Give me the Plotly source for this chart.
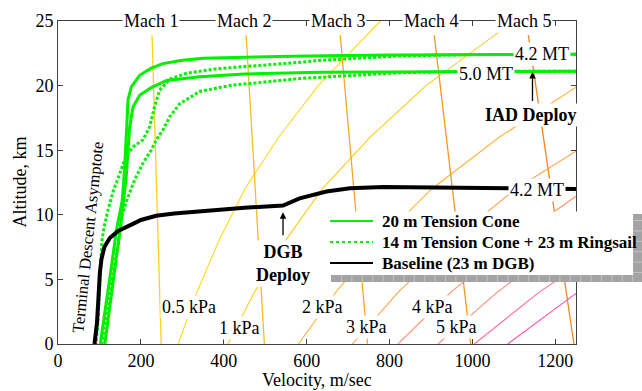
import numpy as np
import plotly.graph_objects as go

SERIF = "Liberation Serif, Times New Roman, serif"

# ---------------- trajectories: velocity (m/s) vs altitude (km) ----------------
# 20 m tension cone, 4.2 MT
tc_42_vel = [1250, 1000, 800, 600, 450, 350, 300, 253, 225, 197, 177, 169, 165, 161,
             155, 141, 129, 115, 102]
tc_42_alt = [22.42, 22.40, 22.36, 22.30, 22.22, 22.12, 21.97, 21.70, 21.35, 20.80,
             19.90, 18.90, 16.30, 13.70, 11.10, 8.80, 6.00, 3.00, 0.00]
# 20 m tension cone, 5.0 MT
tc_50_vel = [1250, 1000, 800, 632, 450, 342, 262, 225, 197, 181, 173, 169, 164, 158,
             150, 138, 126, 113]
tc_50_alt = [21.12, 21.10, 21.08, 21.04, 20.90, 20.68, 20.40, 19.85, 19.25, 18.35,
             16.80, 15.00, 12.70, 11.10, 8.80, 6.00, 3.00, 0.00]
# 14 m tension cone + 23 m ringsail, 4.2 MT
rs_42_vel = [1250, 1000, 825, 704, 632, 583, 503, 463, 382, 342, 310, 270, 245, 233,
             221, 205, 181, 165, 149, 133, 120, 111, 106, 104, 103, 100, 97, 92]
rs_42_alt = [22.42, 22.40, 22.30, 22.10, 21.95, 21.80, 21.60, 21.45, 21.30, 21.10,
             20.95, 20.50, 19.64, 18.35, 16.80, 15.80, 15.25, 14.60, 13.20, 11.80,
             10.30, 9.00, 8.00, 7.00, 6.00, 4.00, 2.00, 0.00]
# 14 m tension cone + 23 m ringsail, 5.0 MT
rs_50_vel = [1250, 1000, 825, 704, 583, 463, 422, 342, 294, 270, 253, 237, 225, 205,
             185, 169, 155, 145, 130, 117, 106]
rs_50_alt = [21.12, 21.10, 21.00, 20.80, 20.55, 20.16, 20.05, 19.55, 18.60, 17.60,
             16.55, 15.80, 15.00, 14.00, 12.70, 11.40, 10.00, 7.80, 5.00, 2.50, 0.00]
# baseline 23 m disk-gap-band, 4.2 MT
dgb_vel = [1250, 1150, 1000, 900, 785, 704, 648, 583, 555, 543, 450, 342, 280, 237,
           200, 181, 160, 145, 125, 112, 105, 101, 97.5, 94, 88]
dgb_alt = [12.00, 12.02, 12.08, 12.12, 12.15, 12.05, 11.80, 11.27, 10.90, 10.72,
           10.55, 10.30, 10.10, 9.92, 9.60, 9.30, 9.00, 8.75, 8.20, 7.50, 6.60,
           5.50, 3.50, 1.60, 0.00]

# ---------------- atmosphere ----------------
atm_alt = [0, 4, 8, 12, 16, 20, 25]                                   # km
atm_density = [0.01189, 0.00891, 0.00664, 0.00492, 0.00353, 0.002536, 0.001652]  # kg/m^3
sound_alt = [0.0, 23.9]                                               # km
sound_speed = [249.0, 227.0]                                          # m/s

mach_numbers = [1, 2, 3, 4, 5]
mach_colors = ["#ffd21a", "#fbbd1e", "#f9a825", "#f7961e", "#f3871c"]

q_kpa = [0.5, 1, 2, 3, 4, 5, 6, 7]
q_colors = ["#ffd91a", "#ffcc1a", "#ffb43c", "#ffa24e", "#ff9468", "#ff8a7c",
            "#ff6c9c", "#ff52ac"]
q_labels = ["0.5 kPa", "1 kPa", "2 kPa", "3 kPa", "4 kPa", "5 kPa"]

x_ticks = [0, 200, 400, 600, 800, 1000, 1200]
y_ticks = [0, 5, 10, 15, 20, 25]

fig = go.Figure()

# constant dynamic-pressure lines
rho = np.array(atm_density)
for q, c in zip(q_kpa, q_colors):
    v = np.sqrt(2.0 * q * 1000.0 / rho)
    fig.add_trace(go.Scatter(x=v, y=atm_alt, mode="lines",
                             line=dict(color=c, width=1.1), hoverinfo="skip",
                             showlegend=False))

# constant Mach lines
a = np.array(sound_speed)
for m, c in zip(mach_numbers, mach_colors):
    fig.add_trace(go.Scatter(x=m * a, y=sound_alt, mode="lines",
                             line=dict(color=c, width=1.3), hoverinfo="skip",
                             showlegend=False))

GREEN = "#00f000"
fig.add_trace(go.Scatter(x=tc_42_vel, y=tc_42_alt, mode="lines",
                         line=dict(color=GREEN, width=3), showlegend=False))
fig.add_trace(go.Scatter(x=tc_50_vel, y=tc_50_alt, mode="lines",
                         line=dict(color=GREEN, width=3), showlegend=False))
fig.add_trace(go.Scatter(x=rs_42_vel, y=rs_42_alt, mode="lines",
                         line=dict(color=GREEN, width=3, dash="3px,2px"), showlegend=False))
fig.add_trace(go.Scatter(x=rs_50_vel, y=rs_50_alt, mode="lines",
                         line=dict(color=GREEN, width=3, dash="3px,2px"), showlegend=False))
fig.add_trace(go.Scatter(x=dgb_vel, y=dgb_alt, mode="lines",
                         line=dict(color="black", width=4), showlegend=False))

# ---------------- page geometry ----------------
W, H = 642, 391
ML, MR, MT, MB = 58, 66, 21, 47
PW, PH = W - ML - MR, H - MT - MB


def pxx(x):
    return (x - ML) / PW


def pxy(y):
    return (H - MB - y) / PH


ann = []


def label(x, y, text, size=18, bold=False, bg="white", **kw):
    if bold:
        text = "<b>" + text + "</b>"
    d = dict(x=x, y=y, xref="x", yref="y", text=text, showarrow=False,
             font=dict(family=SERIF, size=size, color="black"),
             bgcolor=bg, borderpad=1)
    d.update(kw)
    ann.append(d)


# Mach labels along the top edge
for m in mach_numbers:
    label(225 * m, 25, "Mach %d" % m)

# dynamic pressure labels
q_label_pos = [(317, 2.88), (439, 1.21), (638, 2.88), (745, 1.29), (904, 2.88), (961, 1.29)]
for (x, y), t in zip(q_label_pos, q_labels):
    label(x, y, t)

# trajectory end labels
label(1167, 22.45, "4.2 MT")
label(1032, 20.88, "5.0 MT")
label(1157, 11.95, "4.2 MT")

# deployment callouts
ann.append(dict(x=1145, y=21.05, ax=1145, ay=18.7, xref="x", yref="y", axref="x", ayref="y",
                text="", showarrow=True, arrowhead=2, arrowsize=1, arrowwidth=1.3,
                arrowcolor="black"))
label(1142, 17.76, "IAD Deploy", bold=True)
ann.append(dict(x=543, y=10.2, ax=543, ay=8.3, xref="x", yref="y", axref="x", ayref="y",
                text="", showarrow=True, arrowhead=2, arrowsize=1, arrowwidth=1.3,
                arrowcolor="black"))
label(543, 6.24, "DGB<br>Deploy", bold=True)

label(72, 8.24, "Terminal Descent Asymptote", size=16.5, bg="rgba(0,0,0,0)", textangle=-84)

# axis titles
ann.append(dict(x=0.5, y=0, xref="paper", yref="paper", yshift=-36, yanchor="middle",
                text="Velocity, m/sec", showarrow=False,
                font=dict(family=SERIF, size=18, color="black")))
ann.append(dict(x=0, y=0.5, xref="paper", yref="paper", xshift=-39, xanchor="center",
                text="Altitude, km", showarrow=False, textangle=-90,
                font=dict(family=SERIF, size=18, color="black")))

# ---------------- legend box with shadow ----------------
shapes = []
sh_x0, sh_x1, sh_y0, sh_y1 = 331, 660, 214, 282
shapes.append(dict(type="rect", xref="paper", yref="paper", x0=pxx(sh_x0), x1=pxx(sh_x1),
                   y0=pxy(sh_y1), y1=pxy(sh_y0), fillcolor="#a3a3a3",
                   line=dict(width=0), layer="above"))
gx = 341.5
while gx < sh_x1:
    shapes.append(dict(type="line", xref="paper", yref="paper", x0=pxx(gx), x1=pxx(gx),
                       y0=pxy(sh_y1), y1=pxy(sh_y0), line=dict(color="#c2c2c2", width=1),
                       layer="above"))
    gx += 10.4
gy = 220.5
while gy < sh_y1:
    shapes.append(dict(type="line", xref="paper", yref="paper", x0=pxx(sh_x0), x1=pxx(sh_x1),
                       y0=pxy(gy), y1=pxy(gy), line=dict(color="#c2c2c2", width=1),
                       layer="above"))
    gy += 10.4
shapes.append(dict(type="rect", xref="paper", yref="paper", x0=pxx(328), x1=pxx(633),
                   y0=pxy(275), y1=pxy(211.5), fillcolor="white",
                   line=dict(width=0), layer="above"))

legend_rows = [("20 m Tension Cone", GREEN, "solid"),
               ("14 m Tension Cone + 23 m Ringsail", GREEN, "dot"),
               ("Baseline (23 m DGB)", "black", "solid")]
for i, (name, col, dash) in enumerate(legend_rows):
    yy = 221 + 21 * i
    shapes.append(dict(type="line", xref="paper", yref="paper", x0=pxx(330), x1=pxx(373),
                       y0=pxy(yy), y1=pxy(yy), line=dict(color=col, width=2, dash=dash),
                       layer="above"))
    ann.append(dict(x=pxx(380), y=pxy(yy), xref="paper", yref="paper", xanchor="left",
                    yanchor="middle", text="<b>" + name + "</b>", showarrow=False,
                    font=dict(family=SERIF, size=17, color="black")))

axis_common = dict(showline=True, linecolor="#404040", linewidth=1, mirror="ticks",
                   ticks="inside", ticklen=5, tickcolor="#404040", showgrid=False,
                   zeroline=False, tickfont=dict(family=SERIF, size=18, color="black"))

fig.update_layout(
    width=W, height=H,
    margin=dict(l=ML, r=MR, t=MT, b=MB),
    paper_bgcolor="white", plot_bgcolor="white",
    xaxis=dict(range=[0, 1250], tickvals=x_ticks, **axis_common),
    yaxis=dict(range=[0, 25], tickvals=y_ticks, **axis_common),
    annotations=ann, shapes=shapes,
)

fig.write_html("out.html")
